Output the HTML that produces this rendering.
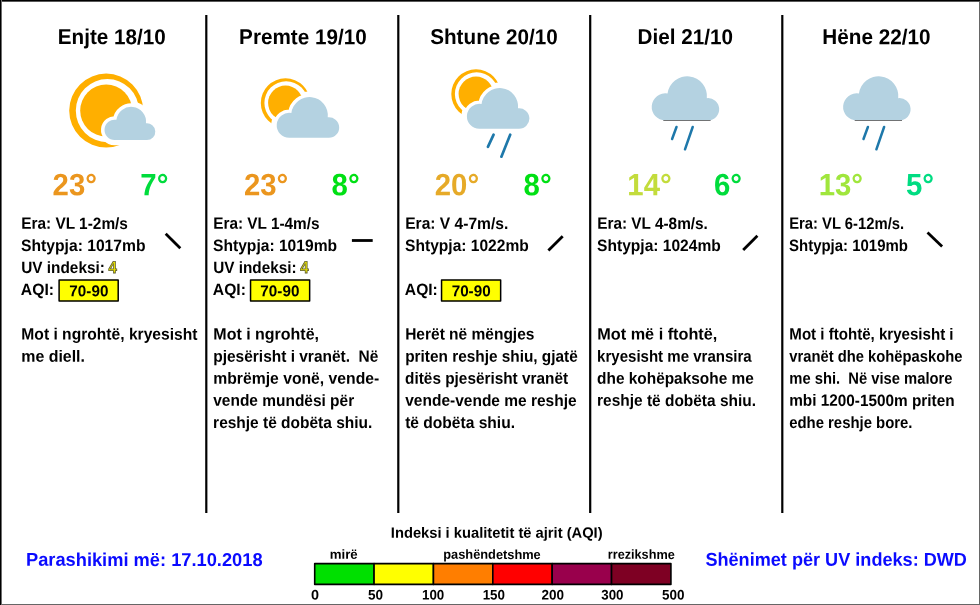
<!DOCTYPE html>
<html lang="sq">
<head>
<meta charset="utf-8">
<title>Parashikimi i motit</title>
<style>
html,body{margin:0;padding:0;background:#fff;}
h2,h3,p{margin:0;font-weight:bold;}
body{width:980px;height:605px;overflow:hidden;position:relative;font-family:"Liberation Sans",sans-serif;font-weight:bold;color:#000;}
svg{position:absolute;left:0;top:0;}
.t,.d,.h,.tp,.f,.lt,.ll,.ln,.aq,.uv{position:absolute;left:0;top:0;white-space:nowrap;line-height:1;transform-origin:0 0;}
.uv{-webkit-text-stroke:0.8px #5a5a32;}
</style>
</head>
<body>
<svg width="980" height="605" viewBox="0 0 980 605">
<rect x="979" y="0" width="1" height="605" fill="#666"/>
<rect x="0" y="604" width="980" height="1" fill="#666"/>
<rect x="0" y="0" width="980" height="1" fill="#000"/><rect x="0" y="1" width="980" height="1" fill="#595959"/>
<rect x="0" y="0" width="1" height="605" fill="#000"/><rect x="1" y="0" width="1" height="605" fill="#6e6e6e"/>
<rect x="205.20" y="15" width="2.2" height="498" fill="#000"/>
<rect x="397.20" y="15" width="2.2" height="498" fill="#000"/>
<rect x="589.10" y="15" width="2.2" height="498" fill="#000"/>
<rect x="781.20" y="15" width="2.2" height="498" fill="#000"/>
<path fill="#ffaf00" fill-rule="evenodd" d="M69.20 110.60a37 37 0 1 0 74.00 0a37 37 0 1 0 -74.00 0ZM75.80 110.60a31.55 31.55 0 1 0 63.11 0a31.55 31.55 0 1 0 -63.11 0Z"/><path transform="translate(104.50,107.00) scale(0.5080)" d="M20 65A20 20 0 1 1 23.47 25.30A29.3 29.3 0 0 1 81.67 32.10A16.5 16.5 0 1 1 83.5 65Z" fill="#fff" stroke="#fff" stroke-width="20.47" stroke-linejoin="round"/><circle cx="106.20" cy="110.60" r="26" fill="#ffaf00"/><path transform="translate(104.50,107.00) scale(0.5080)" d="M20 65A20 20 0 1 1 23.47 25.30A29.3 29.3 0 0 1 81.67 32.10A16.5 16.5 0 1 1 83.5 65Z" fill="#fff" stroke="#fff" stroke-width="13.78" stroke-linejoin="round"/><path transform="translate(104.50,107.00) scale(0.5080)" d="M20 65A20 20 0 1 1 23.47 25.30A29.3 29.3 0 0 1 81.67 32.10A16.5 16.5 0 1 1 83.5 65Z" fill="#b4d2e1"/>
<path fill="#ffaf00" fill-rule="evenodd" d="M260.80 103.00a24.7 24.7 0 1 0 49.40 0a24.7 24.7 0 1 0 -49.40 0ZM264.40 103.00a21.73 21.73 0 1 0 43.46 0a21.73 21.73 0 1 0 -43.46 0Z"/><path transform="translate(276.70,97.20) scale(0.6250)" d="M20 65A20 20 0 1 1 23.47 25.30A29.3 29.3 0 0 1 81.67 32.10A16.5 16.5 0 1 1 83.5 65Z" fill="#fff" stroke="#fff" stroke-width="17.92" stroke-linejoin="round"/><circle cx="285.50" cy="103.00" r="17.4" fill="#ffaf00"/><path transform="translate(276.70,97.20) scale(0.6250)" d="M20 65A20 20 0 1 1 23.47 25.30A29.3 29.3 0 0 1 81.67 32.10A16.5 16.5 0 1 1 83.5 65Z" fill="#fff" stroke="#fff" stroke-width="10.56" stroke-linejoin="round"/><path transform="translate(276.70,97.20) scale(0.6250)" d="M20 65A20 20 0 1 1 23.47 25.30A29.3 29.3 0 0 1 81.67 32.10A16.5 16.5 0 1 1 83.5 65Z" fill="#b4d2e1"/>
<path fill="#ffaf00" fill-rule="evenodd" d="M451.30 94.00a24.7 24.7 0 1 0 49.40 0a24.7 24.7 0 1 0 -49.40 0ZM454.90 94.00a21.73 21.73 0 1 0 43.46 0a21.73 21.73 0 1 0 -43.46 0Z"/><path transform="translate(466.90,88.20) scale(0.6250)" d="M20 65A20 20 0 1 1 23.47 25.30A29.3 29.3 0 0 1 81.67 32.10A16.5 16.5 0 1 1 83.5 65Z" fill="#fff" stroke="#fff" stroke-width="17.92" stroke-linejoin="round"/><circle cx="476.00" cy="94.00" r="17.4" fill="#ffaf00"/><path transform="translate(466.90,88.20) scale(0.6250)" d="M20 65A20 20 0 1 1 23.47 25.30A29.3 29.3 0 0 1 81.67 32.10A16.5 16.5 0 1 1 83.5 65Z" fill="#fff" stroke="#fff" stroke-width="10.56" stroke-linejoin="round"/><path transform="translate(466.90,88.20) scale(0.6250)" d="M20 65A20 20 0 1 1 23.47 25.30A29.3 29.3 0 0 1 81.67 32.10A16.5 16.5 0 1 1 83.5 65Z" fill="#b4d2e1"/>
<line x1="493.6" y1="134.7" x2="487.9" y2="146.8" stroke="#1e78aa" stroke-width="2.7" stroke-linecap="round"/><line x1="510.2" y1="134.7" x2="501.4" y2="156.7" stroke="#1e78aa" stroke-width="2.7" stroke-linecap="round"/>
<path transform="translate(651.70,76.50) scale(0.6750)" d="M20 65A20 20 0 1 1 23.47 25.30A29.3 29.3 0 0 1 81.67 32.10A16.5 16.5 0 1 1 83.5 65Z" fill="#b4d2e1"/>
<rect x="663.3" y="120" width="47.3" height="0.9" fill="#666"/>
<line x1="676.5" y1="127" x2="672.1" y2="139" stroke="#1e78aa" stroke-width="2.5" stroke-linecap="round"/><line x1="692.7" y1="127" x2="685" y2="149.3" stroke="#1e78aa" stroke-width="2.5" stroke-linecap="round"/>
<path transform="translate(843.10,76.50) scale(0.6750)" d="M20 65A20 20 0 1 1 23.47 25.30A29.3 29.3 0 0 1 81.67 32.10A16.5 16.5 0 1 1 83.5 65Z" fill="#b4d2e1"/>
<rect x="854.6999999999999" y="120" width="47.3" height="0.9" fill="#666"/>
<line x1="867.9" y1="127" x2="863.5" y2="139" stroke="#1e78aa" stroke-width="2.5" stroke-linecap="round"/><line x1="884.1" y1="127" x2="876.4" y2="149.3" stroke="#1e78aa" stroke-width="2.5" stroke-linecap="round"/>
<line x1="165.7" y1="233.7" x2="180.3" y2="248.2" stroke="#000" stroke-width="2.8"/>
<line x1="351.9" y1="240.5" x2="372.7" y2="240.5" stroke="#000" stroke-width="2.8"/>
<line x1="548.4" y1="250.5" x2="562.7" y2="236.2" stroke="#000" stroke-width="2.8"/>
<line x1="743.2" y1="250.1" x2="757.4" y2="235.7" stroke="#000" stroke-width="2.8"/>
<line x1="927.5" y1="232.6" x2="942.1" y2="246.4" stroke="#000" stroke-width="2.8"/>
<rect x="59.10" y="279.9" width="59.1" height="21.2" fill="#ffff00" stroke="#000" stroke-width="1.5" stroke-linejoin="round"/>
<rect x="250.55" y="279.9" width="59.1" height="21.2" fill="#ffff00" stroke="#000" stroke-width="1.5" stroke-linejoin="round"/>
<rect x="441.55" y="279.9" width="59.1" height="21.2" fill="#ffff00" stroke="#000" stroke-width="1.5" stroke-linejoin="round"/>
<rect x="314.70" y="563.6" width="59.37" height="20.8" fill="#00e000" stroke="#000" stroke-width="1.6" stroke-linejoin="round"/>
<rect x="374.07" y="563.6" width="59.37" height="20.8" fill="#ffff00" stroke="#000" stroke-width="1.6" stroke-linejoin="round"/>
<rect x="433.44" y="563.6" width="59.37" height="20.8" fill="#ff7e00" stroke="#000" stroke-width="1.6" stroke-linejoin="round"/>
<rect x="492.81" y="563.6" width="59.37" height="20.8" fill="#ff0000" stroke="#000" stroke-width="1.6" stroke-linejoin="round"/>
<rect x="552.18" y="563.6" width="59.37" height="20.8" fill="#99004c" stroke="#000" stroke-width="1.6" stroke-linejoin="round"/>
<rect x="611.55" y="563.6" width="59.37" height="20.8" fill="#7e0023" stroke="#000" stroke-width="1.6" stroke-linejoin="round"/>
</svg>
<main>
<section class="day">
<h2 class="h" style="font-size:21.5px;transform:matrix(0.9621,0.0005,0,1,57.70,27.10);">Enjte 18/10</h2>
<div class="tp" style="font-size:30.8px;transform:matrix(0.9528,0.0005,0,1,52.58,170.35);color:#eb961e;">23°</div>
<div class="tp" style="font-size:30.8px;transform:matrix(0.9528,0.0005,0,1,140.33,170.35);color:#00dc3c;">7°</div>
<div class="t" style="font-size:16.4px;transform:matrix(0.9398,0.0005,0,1,21.19,214.85);">Era: VL 1-2m/s</div>
<div class="t" style="font-size:16.4px;transform:matrix(0.9555,0.0005,0,1,21.06,236.90);">Shtypja: 1017mb</div>
<div class="t" style="font-size:16.4px;transform:matrix(0.9364,0.0005,0,1,21.24,258.95);">UV indeksi:&nbsp;</div>
<div class="t" style="font-size:16.4px;transform:matrix(0.9585,0.0005,0,1,20.85,281.00);">AQI:</div>
<div class="uv" style="font-size:16.8px;transform:matrix(0.8951,0.0005,0,1,108.47,260.05);color:#e6de00;">4</div>
<div class="aq" style="font-size:15.6px;transform:matrix(0.9788,0.0005,0,1,69.34,283.15);">70-90</div>
<p class="d" style="font-size:16.4px;transform:matrix(0.9526,0.0005,0,1,21.36,325.55);">Mot i ngrohtë, kryesisht</p>
<p class="d" style="font-size:16.4px;transform:matrix(0.9714,0.0005,0,1,21.24,347.65);">me diell.</p>
</section>
<section class="day">
<h2 class="h" style="font-size:21.5px;transform:matrix(0.9623,0.0005,0,1,239.12,27.10);">Premte 19/10</h2>
<div class="tp" style="font-size:30.8px;transform:matrix(0.9528,0.0005,0,1,243.98,170.35);color:#eb961e;">23°</div>
<div class="tp" style="font-size:30.8px;transform:matrix(0.9533,0.0005,0,1,331.55,170.35);color:#00e014;">8°</div>
<div class="t" style="font-size:16.4px;transform:matrix(0.9361,0.0005,0,1,213.19,214.85);">Era: VL 1-4m/s</div>
<div class="t" style="font-size:16.4px;transform:matrix(0.9517,0.0005,0,1,213.06,236.90);">Shtypja: 1019mb</div>
<div class="t" style="font-size:16.4px;transform:matrix(0.9327,0.0005,0,1,213.24,258.95);">UV indeksi:&nbsp;</div>
<div class="t" style="font-size:16.4px;transform:matrix(0.9547,0.0005,0,1,212.85,281.00);">AQI:</div>
<div class="uv" style="font-size:16.8px;transform:matrix(0.8951,0.0005,0,1,300.37,260.05);color:#e6de00;">4</div>
<div class="aq" style="font-size:15.6px;transform:matrix(0.9788,0.0005,0,1,260.34,283.15);">70-90</div>
<p class="d" style="font-size:16.4px;transform:matrix(0.9754,0.0005,0,1,213.33,325.55);">Mot i ngrohtë,</p>
<p class="d" style="font-size:16.4px;transform:matrix(0.9444,0.0005,0,1,213.23,347.65);">pjesërisht i vranët.&nbsp; Në</p>
<p class="d" style="font-size:16.4px;transform:matrix(0.9592,0.0005,0,1,213.25,369.75);">mbrëmje vonë, vende-</p>
<p class="d" style="font-size:16.4px;transform:matrix(0.9433,0.0005,0,1,213.26,391.85);">vende mundësi për</p>
<p class="d" style="font-size:16.4px;transform:matrix(0.9445,0.0005,0,1,213.11,413.95);">reshje të dobëta shiu.</p>
</section>
<section class="day">
<h2 class="h" style="font-size:21.5px;transform:matrix(0.9624,0.0005,0,1,430.17,27.10);">Shtune 20/10</h2>
<div class="tp" style="font-size:30.8px;transform:matrix(0.9528,0.0005,0,1,434.78,170.35);color:#e6aa28;">20°</div>
<div class="tp" style="font-size:30.8px;transform:matrix(0.9533,0.0005,0,1,523.55,170.35);color:#00e014;">8°</div>
<div class="t" style="font-size:16.4px;transform:matrix(0.9515,0.0005,0,1,405.17,214.85);">Era: V 4-7m/s.</div>
<div class="t" style="font-size:16.4px;transform:matrix(0.9497,0.0005,0,1,405.06,236.90);">Shtypja: 1022mb</div>
<div class="t" style="font-size:16.4px;transform:matrix(0.9528,0.0005,0,1,404.85,281.00);">AQI:</div>
<div class="aq" style="font-size:15.6px;transform:matrix(0.9788,0.0005,0,1,451.64,283.15);">70-90</div>
<p class="d" style="font-size:16.4px;transform:matrix(0.9460,0.0005,0,1,405.15,325.55);">Herët në mëngjes</p>
<p class="d" style="font-size:16.4px;transform:matrix(0.9372,0.0005,0,1,405.24,347.65);">priten reshje shiu, gjatë</p>
<p class="d" style="font-size:16.4px;transform:matrix(0.9363,0.0005,0,1,405.12,369.75);">ditës pjesërisht vranët</p>
<p class="d" style="font-size:16.4px;transform:matrix(0.9452,0.0005,0,1,405.25,391.85);">vende-vende me reshje</p>
<p class="d" style="font-size:16.4px;transform:matrix(0.9498,0.0005,0,1,405.17,413.95);">të dobëta shiu.</p>
</section>
<section class="day">
<h2 class="h" style="font-size:21.5px;transform:matrix(0.9621,0.0005,0,1,637.51,27.10);">Diel 21/10</h2>
<div class="tp" style="font-size:30.8px;transform:matrix(0.9528,0.0005,0,1,627.35,170.35);color:#c3dc3c;">14°</div>
<div class="tp" style="font-size:30.8px;transform:matrix(0.9527,0.0005,0,1,713.92,170.35);color:#00dc3c;">6°</div>
<div class="t" style="font-size:16.4px;transform:matrix(0.9369,0.0005,0,1,597.19,214.85);">Era: VL 4-8m/s.</div>
<div class="t" style="font-size:16.4px;transform:matrix(0.9497,0.0005,0,1,597.06,236.90);">Shtypja: 1024mb</div>
<p class="d" style="font-size:16.4px;transform:matrix(0.9903,0.0005,0,1,597.31,325.55);">Mot më i ftohtë,</p>
<p class="d" style="font-size:16.4px;transform:matrix(0.9175,0.0005,0,1,597.07,347.65);">kryesisht me vransira</p>
<p class="d" style="font-size:16.4px;transform:matrix(0.9395,0.0005,0,1,597.12,369.75);">dhe kohëpaksohe me</p>
<p class="d" style="font-size:16.4px;transform:matrix(0.9426,0.0005,0,1,597.11,391.85);">reshje të dobëta shiu.</p>
</section>
<section class="day">
<h2 class="h" style="font-size:21.5px;transform:matrix(0.9627,0.0005,0,1,822.37,27.10);">Hëne 22/10</h2>
<div class="tp" style="font-size:30.8px;transform:matrix(0.9528,0.0005,0,1,818.65,170.35);color:#a0e63c;">13°</div>
<div class="tp" style="font-size:30.8px;transform:matrix(0.9530,0.0005,0,1,905.94,170.35);color:#00dc82;">5°</div>
<div class="t" style="font-size:16.4px;transform:matrix(0.9031,0.0005,0,1,789.19,214.85);">Era: VL 6-12m/s.</div>
<div class="t" style="font-size:16.4px;transform:matrix(0.9125,0.0005,0,1,789.07,236.90);">Shtypja: 1019mb</div>
<p class="d" style="font-size:16.4px;transform:matrix(0.9200,0.0005,0,1,789.34,325.55);">Mot i ftohtë, kryesisht i</p>
<p class="d" style="font-size:16.4px;transform:matrix(0.9008,0.0005,0,1,789.25,347.65);">vranët dhe kohëpaskohe</p>
<p class="d" style="font-size:16.4px;transform:matrix(0.9004,0.0005,0,1,789.27,369.75);">me shi.&nbsp; Në vise malore</p>
<p class="d" style="font-size:16.4px;transform:matrix(0.9354,0.0005,0,1,789.23,391.85);">mbi 1200-1500m priten</p>
<p class="d" style="font-size:16.4px;transform:matrix(0.9089,0.0005,0,1,789.15,413.95);">edhe reshje bore.</p>
</section>
</main>
<footer>
<p class="f" style="font-size:18.63px;transform:matrix(0.9814,0.0005,0,1,25.97,550.85);color:#0a0aff;">Parashikimi më: 17.10.2018</p>
<p class="f" style="font-size:18.63px;transform:matrix(0.9727,0.0005,0,1,705.42,550.65);color:#0a0aff;">Shënimet për UV indeks: DWD</p>
<h3 class="lt" style="font-size:14.94px;transform:matrix(0.9852,0.0005,0,1,390.81,525.65);">Indeksi i kualitetit të ajrit (AQI)</h3>
<div class="ll" style="font-size:13.23px;transform:matrix(1.0030,0.0005,0,1,329.72,547.85);">mirë</div>
<div class="ll" style="font-size:13.23px;transform:matrix(0.9685,0.0005,0,1,443.25,547.85);">pashëndetshme</div>
<div class="ll" style="font-size:13.23px;transform:matrix(0.9599,0.0005,0,1,607.75,547.85);">rrezikshme</div>
<div class="ln" style="font-size:13.8px;transform:matrix(1.0435,0.0005,0,1,311.02,588.45);">0</div>
<div class="ln" style="font-size:13.8px;transform:matrix(0.9823,0.0005,0,1,367.94,588.45);">50</div>
<div class="ln" style="font-size:13.8px;transform:matrix(0.9689,0.0005,0,1,421.96,588.45);">100</div>
<div class="ln" style="font-size:13.8px;transform:matrix(0.9689,0.0005,0,1,482.66,588.45);">150</div>
<div class="ln" style="font-size:13.8px;transform:matrix(0.9787,0.0005,0,1,541.51,588.45);">200</div>
<div class="ln" style="font-size:13.8px;transform:matrix(0.9681,0.0005,0,1,601.25,588.45);">300</div>
<div class="ln" style="font-size:13.8px;transform:matrix(0.9767,0.0005,0,1,661.94,588.45);">500</div>
</footer>
</body>
</html>
